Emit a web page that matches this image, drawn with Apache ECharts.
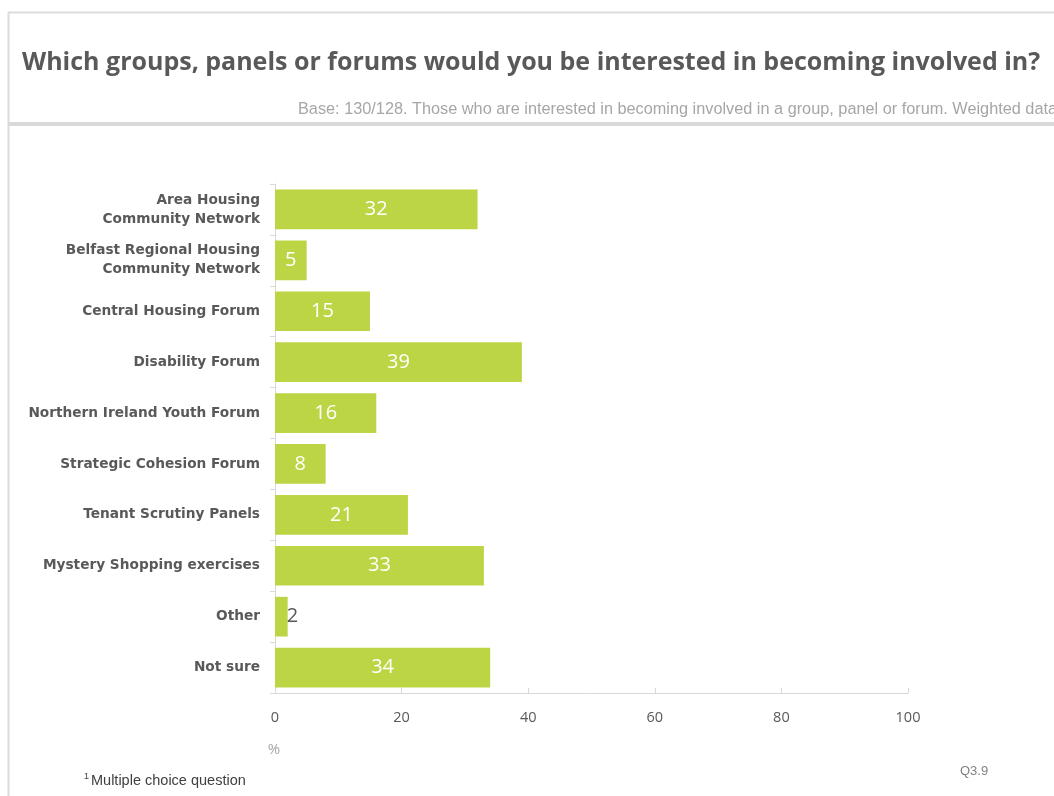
<!DOCTYPE html>
<html>
<head>
<meta charset="utf-8">
<title>Groups, panels or forums</title>
<script src="https://cdn.jsdelivr.net/npm/echarts@6/dist/echarts.min.js"></script>
<style>
  html, body { margin: 0; padding: 0; background: #ffffff; }
  #chart { width: 1054px; height: 796px; }
</style>
</head>
<body>
<div id="chart"></div>
<script>
// Survey options (top to bottom)
const categories = [
  'Area Housing\nCommunity Network',
  'Belfast Regional Housing\nCommunity Network',
  'Central Housing Forum',
  'Disability Forum',
  'Northern Ireland Youth Forum',
  'Strategic Cohesion Forum',
  'Tenant Scrutiny Panels',
  'Mystery Shopping exercises',
  'Other',
  'Not sure'
];
// Share of respondents interested (%)
const values = [32, 5, 15, 39, 16, 8, 21, 33, 2, 34];
// Value axis ticks
const axisMin = 0;
const axisMax = 100;
const axisStep = 20;

const titleText = 'Which groups, panels or forums would you be interested in becoming involved in?';
const baseText = 'Base: 130/128. Those who are interested in becoming involved in a group, panel or forum. Weighted data';
const footnoteText = 'Multiple choice question';
const questionRef = 'Q3.9';

const barColor = '#bcd545';
const textGrey = '#595959';

const chart = echarts.init(document.getElementById('chart'), null, { renderer: 'canvas' });

// Bars too short to hold their label show it just past the end, in grey
const barData = values.map(v => v < 4
  ? { value: v, label: { position: 'right', distance: -1, color: textGrey } }
  : v);

chart.setOption({
  animation: false,
  backgroundColor: '#ffffff',
  grid: { left: 275, right: 146, top: 184, bottom: 103, containLabel: false },
  xAxis: {
    type: 'value',
    min: axisMin,
    max: axisMax,
    interval: axisStep,
    splitLine: { show: false },
    axisLine: { show: true, lineStyle: { color: '#d9d9d9', width: 1 } },
    axisTick: { show: true, inside: true, length: 5, lineStyle: { color: '#d9d9d9' } },
    axisLabel: { color: textGrey, fontSize: 14.5, fontFamily: 'Open Sans', margin: 17 }
  },
  yAxis: {
    type: 'category',
    inverse: true,
    data: categories,
    axisLine: { show: true, lineStyle: { color: '#d9d9d9', width: 1 } },
    axisTick: { show: true, length: 5, lineStyle: { color: '#d9d9d9' } },
    axisLabel: {
      color: textGrey,
      fontSize: 13.7,
      fontWeight: 'bold',
      fontFamily: 'DejaVu Sans',
      margin: 15,
      lineHeight: 19,
      align: 'right'
    }
  },
  series: [{
    type: 'bar',
    data: barData,
    barCategoryGap: '22%',
    itemStyle: { color: barColor },
    label: {
      show: true,
      position: 'inside',
      color: '#ffffff',
      fontSize: 20,
      fontFamily: 'Open Sans'
    }
  }],
  graphic: [
    // outer frame
    { type: 'line', shape: { x1: 8, y1: 12.5, x2: 1054, y2: 12.5 }, style: { stroke: '#dcdcdc', lineWidth: 2 } },
    { type: 'line', shape: { x1: 8.5, y1: 12, x2: 8.5, y2: 796 }, style: { stroke: '#dcdcdc', lineWidth: 2 } },
    { type: 'rect', shape: { x: 8, y: 122, width: 1046, height: 4 }, style: { fill: '#d9d9d9' } },
    {
      type: 'text', x: 22, y: 63,
      style: { text: titleText, fill: textGrey, fontSize: 25, fontWeight: 'bold', fontFamily: 'Open Sans', verticalAlign: 'middle' }
    },
    {
      type: 'text', x: 298, y: 110,
      style: { text: baseText, fill: '#a6a6a6', fontSize: 16.3, fontFamily: 'Liberation Sans', verticalAlign: 'middle' }
    },
    {
      type: 'text', x: 274, y: 750,
      style: { text: '%', fill: '#a6a6a6', fontSize: 15, fontFamily: 'Open Sans', align: 'center', verticalAlign: 'middle' }
    },
    {
      type: 'text', x: 84, y: 781,
      style: {
        text: '{sup|1}{t|' + footnoteText + '}',
        verticalAlign: 'middle',
        rich: {
          sup: { fontSize: 9, fill: '#404040', fontFamily: 'Liberation Sans', verticalAlign: 'top', padding: [0, 2, 8, 0] },
          t: { fontSize: 14.5, fill: '#404040', fontFamily: 'Liberation Sans' }
        }
      }
    },
    {
      type: 'text', x: 960, y: 771,
      style: { text: questionRef, fill: '#808080', fontSize: 13, fontFamily: 'Liberation Sans', verticalAlign: 'middle' }
    }
  ]
});
</script>
</body>
</html>
